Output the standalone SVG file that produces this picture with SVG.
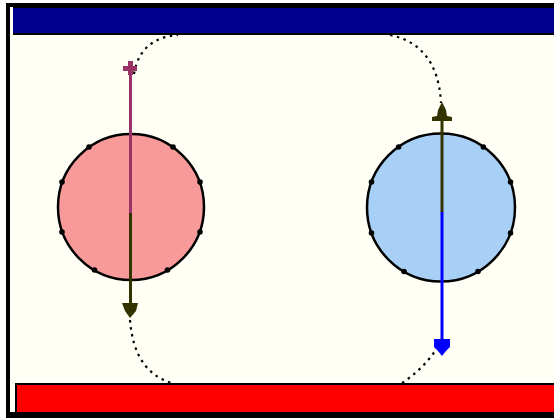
<svg xmlns="http://www.w3.org/2000/svg" width="554" height="418" viewBox="0 0 554 418">
<style>
.field{fill:none;stroke:#000;stroke-width:2.2;stroke-dasharray:2.5 4.5;stroke-linecap:butt}
.circ{stroke:#000;stroke-width:2.5}
.tick{fill:#000}
</style>
<g id="frame">
<rect x="0" y="0" width="554" height="418" fill="#fff"/>
<rect x="6" y="3" width="548" height="415" fill="#000"/>
<rect x="10" y="7" width="544" height="405" fill="#FFFFF6"/>
</g>
<g id="top-plate">
<rect x="13" y="7" width="541" height="28" fill="#000"/>
<rect x="13" y="8" width="541" height="25" fill="#00008E"/>
</g>
<g id="bottom-plate">
<rect x="15" y="383" width="539" height="29" fill="#000"/>
<rect x="17" y="385" width="537" height="27" fill="#FF0000"/>
</g>
<g id="left-sphere">
<circle class="circ" cx="131" cy="207" r="73" fill="#F99A9A"/>
<g class="tick">
<circle cx="89" cy="147" r="2.8"/>
<circle cx="173" cy="147" r="2.8"/>
<circle cx="62" cy="182" r="2.8"/>
<circle cx="200" cy="182" r="2.8"/>
<circle cx="62" cy="232" r="2.8"/>
<circle cx="200" cy="232" r="2.8"/>
<circle cx="94.5" cy="270" r="2.8"/>
<circle cx="167.5" cy="270" r="2.8"/>
</g>
</g>
<g id="right-sphere">
<circle class="circ" cx="441" cy="207.5" r="74" fill="#A8D0F6"/>
<g class="tick">
<circle cx="398.6" cy="147" r="2.8"/>
<circle cx="483.4" cy="147" r="2.8"/>
<circle cx="371.5" cy="182" r="2.8"/>
<circle cx="510.5" cy="182" r="2.8"/>
<circle cx="371.5" cy="233" r="2.8"/>
<circle cx="510.5" cy="233" r="2.8"/>
<circle cx="404" cy="271.5" r="2.8"/>
<circle cx="478" cy="271.5" r="2.8"/>
</g>
</g>
<g id="connectors">
<path class="field" d="M134,74 Q140,38 178,35"/>
<path class="field" d="M390,35 Q438,45 441,103"/>
<path class="field" d="M130,320 Q134,372 172,383"/>
<path class="field" d="M402,383 Q425,368 439,345"/>
<line x1="130.5" y1="66" x2="130.5" y2="213" stroke="#993366" stroke-width="3"/>
<rect x="123" y="66" width="14" height="5" fill="#993366"/>
<rect x="128" y="61" width="5" height="14" fill="#993366"/>
<line x1="130.5" y1="213" x2="130.5" y2="305" stroke="#333300" stroke-width="3"/>
<polygon points="122,303 138,303 136,311 130,318 125,311" fill="#333300"/>
<line x1="442" y1="115" x2="442" y2="212" stroke="#333300" stroke-width="3"/>
<polygon points="442,102 446,110 447,116 452,117 452,121 432,121 432,117 437,116 438,110" fill="#333300"/>
<line x1="442" y1="212" x2="442" y2="342" stroke="#0000FF" stroke-width="3"/>
<polygon points="434,339 450,339 450,347 446,351 442,356 438,351 434,347" fill="#0000FF"/>
</g>
</svg>
